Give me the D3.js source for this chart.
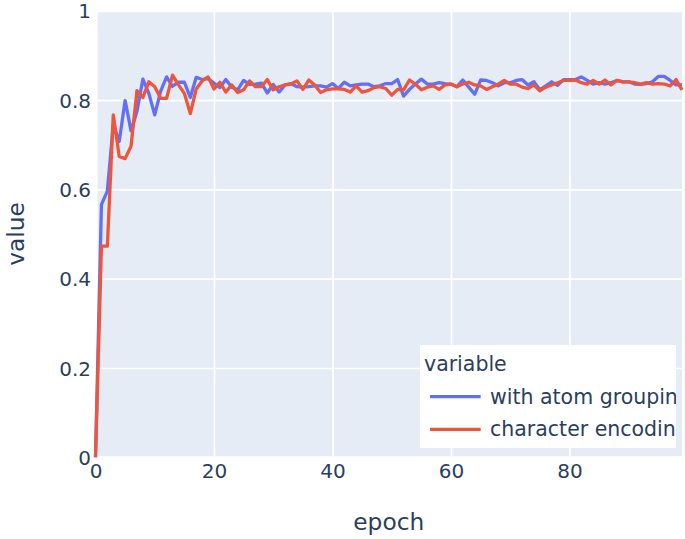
<!DOCTYPE html>
<html><head><meta charset="utf-8">
<script src="https://cdn.jsdelivr.net/npm/d3@7"></script>
<style>body{margin:0;background:#fff}svg{display:block}</style>
</head><body><svg id="c" width="685" height="539"></svg>
<script>
const seriesNames = ["with atom grouping", "character encoding"];
const seriesColors = ["#636EFA", "#EF553B"];
const epochs = d3.range(100);
const withAtomGrouping = [0,0.566,0.596,0.745,0.707,0.799,0.731,0.775,0.847,0.815,
0.767,0.82,0.852,0.831,0.84,0.84,0.806,0.851,0.846,0.848,
0.838,0.828,0.846,0.829,0.823,0.844,0.835,0.836,0.838,0.816,
0.835,0.818,0.834,0.837,0.83,0.829,0.83,0.832,0.832,0.829,
0.837,0.826,0.84,0.832,0.834,0.836,0.836,0.83,0.832,0.837,
0.837,0.846,0.809,0.824,0.836,0.847,0.836,0.836,0.839,0.837,
0.836,0.83,0.845,0.829,0.813,0.845,0.844,0.839,0.832,0.839,
0.839,0.844,0.846,0.834,0.841,0.823,0.832,0.841,0.833,0.846,
0.846,0.846,0.852,0.844,0.836,0.839,0.836,0.839,0.844,0.841,
0.841,0.836,0.835,0.837,0.841,0.853,0.853,0.844,0.834,0.834];
const characterEncoding = [0,0.473,0.473,0.767,0.674,0.669,0.697,0.821,0.806,0.841,
0.83,0.804,0.804,0.856,0.834,0.815,0.77,0.825,0.843,0.852,
0.825,0.84,0.818,0.834,0.817,0.823,0.843,0.83,0.83,0.846,
0.823,0.83,0.834,0.836,0.843,0.824,0.845,0.834,0.817,0.823,
0.825,0.825,0.824,0.818,0.832,0.818,0.821,0.828,0.83,0.826,
0.811,0.824,0.823,0.845,0.836,0.823,0.829,0.832,0.824,0.834,
0.836,0.83,0.836,0.84,0.834,0.832,0.824,0.83,0.836,0.844,
0.836,0.836,0.829,0.826,0.834,0.821,0.829,0.834,0.839,0.844,
0.844,0.845,0.839,0.836,0.844,0.836,0.845,0.834,0.844,0.841,
0.841,0.839,0.836,0.839,0.836,0.837,0.836,0.832,0.846,0.823];
const xTicks = [0,20,40,60,80];
const yTicks = [0,0.2,0.4,0.6,0.8,1];
const xTitle = "epoch", yTitle = "value", legendTitle = "variable";

const svg = d3.select("#c");
const font = "'DejaVu Sans', Verdana, sans-serif";
const txt = "#2a3f5f";
const L = 95.5, R = 682, T = 10.8, B = 457.3;
const x = d3.scaleLinear().domain([0, 99]).range([L, R]);
const y = d3.scaleLinear().domain([0, 1]).range([B, T]);

svg.append("rect").attr("x", L).attr("y", T).attr("width", R - L).attr("height", B - T).attr("fill", "#E5ECF6");

const xAxis = d3.axisBottom(x).tickValues(xTicks).tickSize(-(B - T)).tickFormat(d3.format("d"));
const gx = svg.append("g").attr("transform", `translate(0,${B})`).call(xAxis);
const yAxis = d3.axisLeft(y).tickValues(yTicks).tickSize(-(R - L)).tickFormat(d => d3.format("~g")(d));
const gy = svg.append("g").attr("transform", `translate(${L},0)`).call(yAxis);
[gx, gy].forEach(g => {
  g.select(".domain").remove();
  g.selectAll(".tick line").attr("stroke", "#fff").attr("stroke-width", d => d === 0 ? 3.3 : 1.7);
  g.selectAll(".tick text").attr("fill", txt).style("font-family", font).style("font-size", "20px");
});
gx.selectAll(".tick text").attr("y", 6.5).attr("dy", "0.71em");
gy.selectAll(".tick text").attr("x", -4.5).attr("dy", "0.35em");

const line = d3.line().x((d, i) => x(epochs[i])).y(d => y(d));
[withAtomGrouping, characterEncoding].forEach((s, k) => {
  svg.append("path").datum(s).attr("d", line).attr("fill", "none")
    .attr("stroke", seriesColors[k]).attr("stroke-width", 3.3).attr("stroke-linejoin", "round");
});

svg.append("text").attr("x", (L + R) / 2).attr("y", 530).attr("text-anchor", "middle")
  .attr("fill", txt).style("font-family", font).style("font-size", "23.3px").text(xTitle);
svg.append("text").attr("transform", `translate(24,${(T + B) / 2}) rotate(-90)`).attr("text-anchor", "middle")
  .attr("fill", txt).style("font-family", font).style("font-size", "23.3px").text(yTitle);

// legend (text clipped by the legend box, as in the reference)
const lx = 420, ly = 345, lw = 256, lh = 103;
const defs = svg.append("defs");
defs.append("clipPath").attr("id", "lc").append("rect").attr("x", lx).attr("y", ly).attr("width", lw).attr("height", lh);
const lg = svg.append("g").attr("clip-path", "url(#lc)");
lg.append("rect").attr("x", lx).attr("y", ly).attr("width", lw).attr("height", lh).attr("fill", "#fff");
lg.append("text").attr("x", 424).attr("y", 370.5).attr("fill", txt).style("font-family", font).style("font-size", "20.5px").text(legendTitle);
seriesNames.forEach((n, k) => {
  const yy = 396.7 + k * 32.6;
  lg.append("line").attr("x1", 430).attr("x2", 480.7).attr("y1", yy).attr("y2", yy)
    .attr("stroke", seriesColors[k]).attr("stroke-width", 3.3);
  lg.append("text").attr("x", 490).attr("y", yy).attr("dy", "0.35em").attr("fill", txt)
    .style("font-family", font).style("font-size", "20.5px").text(n);
});
</script></body></html>
